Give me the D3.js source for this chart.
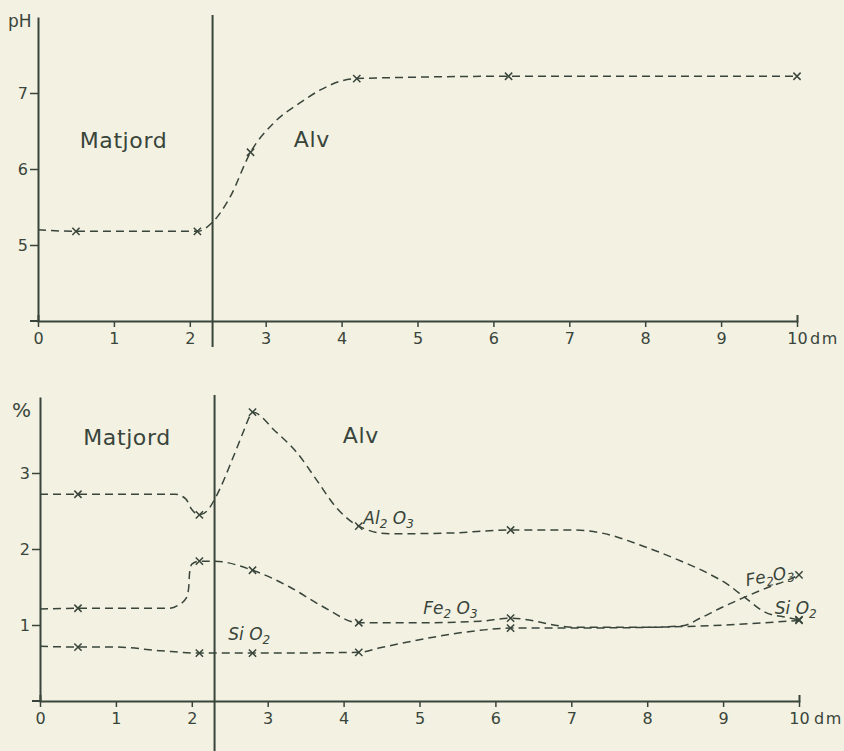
<!DOCTYPE html>
<html>
<head>
<meta charset="utf-8">
<script src="https://cdn.jsdelivr.net/npm/d3@7"></script>
<style>
  html, body { margin: 0; padding: 0; background: #f3f1e2; }
  svg { display: block; }
  text { font-family: "DejaVu Sans", "Liberation Sans", sans-serif; fill: #39453b; }
</style>
</head>
<body>
<div id="chart"></div>
<script>
// ---- data ----
var depthTicks = [0, 1, 2, 3, 4, 5, 6, 7, 8, 9, 10];
var phTicks = [5, 6, 7];
var pctTicks = [1, 2, 3];
var horizonDepth = 2.3;   // Matjord / Alv boundary, dm

// depths of the marked samples (dm)
var sampleDepth = [0.5, 2.1, 2.8, 4.2, 6.2, 10.0];
var phValues    = [5.18, 5.18, 6.22, 7.19, 7.22, 7.22];
var al2o3Values = [2.72, 2.45, 3.80, 2.30, 2.25, 1.07];
var fe2o3Values = [1.22, 1.84, 1.72, 1.03, 1.09, 1.66];
var sio2Values  = [0.71, 0.63, 0.63, 0.64, 0.96, 1.06];

// extra points, [depth, value]
var phTrace = [[0, 5.2], [2.3, 5.3], [2.53, 5.63], [3.1, 6.6], [3.45, 6.87], [3.72, 7.04], [4.0, 7.16]];
var al2o3Trace = [[0, 2.72], [1.78, 2.72], [1.92, 2.66], [2.0, 2.52], [2.2, 2.5], [2.33, 2.71],
  [2.53, 3.17], [2.69, 3.57], [2.77, 3.76], [3.1, 3.55], [3.4, 3.25], [3.65, 2.9], [3.9, 2.55],
  [4.6, 2.2], [5.4, 2.21], [7.0, 2.25], [7.4, 2.21], [7.94, 2.04], [8.4, 1.86], [8.8, 1.68],
  [9.05, 1.54], [9.29, 1.36], [9.55, 1.17], [9.84, 1.1]];
var fe2o3Trace = [[0, 1.21], [1.7, 1.22], [1.82, 1.26], [1.93, 1.36], [1.96, 1.5], [1.97, 1.68],
  [2.0, 1.8], [2.3, 1.84], [3.29, 1.5], [3.73, 1.24], [5.0, 1.03], [5.8, 1.05], [7.05, 0.97],
  [8.0, 0.97], [8.47, 0.99], [8.7, 1.09], [8.96, 1.22], [9.27, 1.36], [9.58, 1.49], [9.92, 1.62]];
var sio2Trace = [[0, 0.72], [1.0, 0.71], [1.6, 0.66], [4.48, 0.7], [5.18, 0.84], [5.8, 0.93],
  [7.0, 0.96], [8.5, 0.98]];

var W = 844, H = 751;
var ink = "#39453b";

var svg = d3.select("#chart").append("svg")
    .attr("width", W)
    .attr("height", H);

svg.append("rect")
    .attr("width", W)
    .attr("height", H)
    .attr("fill", "#f3f1e2");

function curvePoints(values, trace) {
    var pts = sampleDepth.map(function(d, i) { return [d, values[i]]; });
    return pts.concat(trace).sort(function(a, b) { return a[0] - b[0]; });
}

function samplePoints(values) {
    return sampleDepth.map(function(d, i) { return [d, values[i]]; });
}

function drawPanel(p) {
    var x = d3.scaleLinear().domain([0, 10]).range(p.xRange);
    var y = d3.scaleLinear().domain(p.yDomain).range(p.yRange);
    var g = svg.append("g");
    var y0 = y(p.yDomain[0]);

    // x axis
    var xAxis = g.append("g")
        .attr("transform", "translate(0," + y0 + ")")
        .style("color", ink)
        .call(d3.axisBottom(x).tickValues(depthTicks).tickSize(6).tickSizeOuter(-6).tickPadding(6));
    xAxis.attr("font-size", 16).attr("font-family", null);
    xAxis.select(".domain").attr("stroke-width", 2);
    xAxis.selectAll(".tick line").attr("stroke-width", 1.5);

    // short run of the base line left of the y axis
    g.append("line")
        .attr("x1", x(0) - 8).attr("x2", x(0))
        .attr("y1", y0).attr("y2", y0)
        .attr("stroke", ink).attr("stroke-width", 2);

    g.append("text")
        .attr("x", x(10) + p.unitGap)
        .attr("y", y0 + 23)
        .attr("font-size", 16)
        .attr("letter-spacing", 1.5)
        .text("dm");

    // y axis
    var yAxis = g.append("g")
        .attr("transform", "translate(" + x(0) + ",0)")
        .style("color", ink)
        .call(d3.axisLeft(y).tickValues(p.yTicks).tickSize(8).tickSizeOuter(0).tickPadding(2)
            .tickFormat(d3.format("d")));
    yAxis.attr("font-size", 16).attr("font-family", null);
    yAxis.select(".domain").attr("stroke-width", 2);
    yAxis.selectAll(".tick line").attr("stroke-width", 1.5);

    g.append("text")
        .attr("x", x(0) - p.unitLabel.dx)
        .attr("y", y(p.yDomain[1]) + p.unitLabel.dy)
        .attr("font-size", p.unitLabel.size)
        .text(p.unitLabel.text);

    // horizon boundary
    g.append("line")
        .attr("x1", x(horizonDepth)).attr("x2", x(horizonDepth))
        .attr("y1", y(p.yDomain[1]) - 2).attr("y2", y0 + p.dividerDrop)
        .attr("stroke", ink).attr("stroke-width", 2);

    // horizon names
    p.horizons.forEach(function(h) {
        g.append("text")
            .attr("x", x(h.depth))
            .attr("y", y(h.value))
            .attr("font-size", 22)
            .attr("letter-spacing", 0.6)
            .text(h.text);
    });

    var line = d3.line()
        .x(function(d) { return x(d[0]); })
        .y(function(d) { return y(d[1]); })
        .curve(d3.curveMonotoneX);

    var cross = d3.symbol().type(d3.symbolX).size(36);

    p.series.forEach(function(s) {
        g.append("path")
            .datum(curvePoints(s.values, s.trace))
            .attr("d", line)
            .attr("fill", "none")
            .attr("stroke", ink)
            .attr("stroke-width", 1.5)
            .attr("stroke-dasharray", "8,5");

        g.append("g").selectAll("path")
            .data(samplePoints(s.values))
            .enter()
            .append("path")
            .attr("d", cross)
            .attr("transform", function(d) { return "translate(" + x(d[0]) + "," + y(d[1]) + ")"; })
            .attr("fill", "none")
            .attr("stroke", ink)
            .attr("stroke-width", 1.5);
    });

    // chemical labels (italic, with subscripts)
    p.labels.forEach(function(l) {
        var t = g.append("text")
            .attr("transform", "translate(" + x(l.depth) + "," + y(l.value) + ") rotate(" + (l.angle || 0) + ")")
            .attr("font-size", 17)
            .attr("font-style", "italic");
        l.parts.forEach(function(part, i) {
            var ts = t.append("tspan").text(part);
            if (i % 2 === 1) {
                ts.attr("font-size", 12).attr("dy", 4);
            } else if (i > 0) {
                ts.attr("dy", -4);
            }
        });
    });
}

drawPanel({
    xRange: [38, 797],
    yDomain: [4, 8],
    yRange: [321, 17],
    yTicks: phTicks,
    unitGap: 13,
    unitLabel: { text: "pH", dx: 30, dy: 10, size: 17 },
    dividerDrop: 26,
    horizons: [
        { text: "Matjord", depth: 0.55, value: 6.28 },
        { text: "Alv", depth: 3.37, value: 6.29 }
    ],
    series: [
        { values: phValues, trace: phTrace }
    ],
    labels: []
});

drawPanel({
    xRange: [40, 799],
    yDomain: [0, 4],
    yRange: [701, 397],
    yTicks: pctTicks,
    unitGap: 15,
    unitLabel: { text: "%", dx: 28, dy: 20, size: 20 },
    dividerDrop: 60,
    horizons: [
        { text: "Matjord", depth: 0.57, value: 3.37 },
        { text: "Alv", depth: 3.99, value: 3.39 }
    ],
    series: [
        { values: al2o3Values, trace: al2o3Trace },
        { values: fe2o3Values, trace: fe2o3Trace },
        { values: sio2Values, trace: sio2Trace }
    ],
    labels: [
        { parts: ["Al", "2", " O", "3"], depth: 4.26, value: 2.33 },
        { parts: ["Fe", "2", " O", "3"], depth: 5.05, value: 1.145 },
        { parts: ["Si O", "2"], depth: 2.48, value: 0.80 },
        { parts: ["Fe", "2", "O", "3"], depth: 9.31, value: 1.51, angle: -11 },
        { parts: ["Si O", "2"], depth: 9.68, value: 1.145 }
    ]
});
</script>
</body>
</html>
